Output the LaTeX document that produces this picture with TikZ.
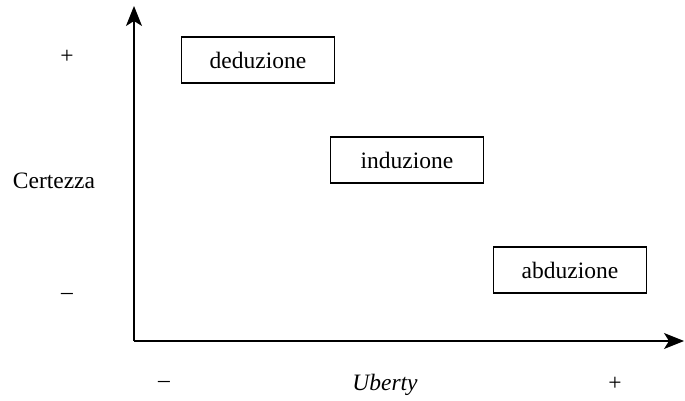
\documentclass[tikz,border=0pt]{standalone}
\usepackage{fontspec}
\setmainfont{Liberation Serif}
\usetikzlibrary{arrows.meta}
\begin{document}
\begin{tikzpicture}[x=1pt,y=-1pt,
  lbl/.style={inner sep=0pt, font=\fontsize{23.5}{27}\selectfont},
  method/.style={draw, line width=1.2pt, minimum width=153pt, minimum height=46pt,
    inner sep=0pt, font=\fontsize{23.5}{27}\selectfont},
  axis/.style={line width=1.3pt, -{Stealth[length=20pt,width=16pt,inset=5pt]}}]
\useasboundingbox (0,0) rectangle (685,401);
% axes
\coordinate (o) at (134,341);
\coordinate (ytip) at (134,6);
\coordinate (xtip) at (684,341);
\draw[axis] (o) -- (ytip);
\draw[axis] (o) -- (xtip);
% methods
\node[method] (ded) at (258,60) {deduzione};
\node[method] (ind) at (407,160) {induzione};
\node[method] (abd) at (570,270) {abduzione};
% vertical axis labels
\node[lbl] (yplus) at (67,57) {+};
\node[lbl] (ylab) at (54,181) {Certezza};
\node[lbl] (yminus) at (67,296) {–};
% horizontal axis labels
\node[lbl] (xminus) at (164,384) {–};
\node[lbl] (xlab) at (385,385) {\itshape Uberty};
\node[lbl] (xplus) at (615,384) {+};
\end{tikzpicture}
\end{document}
